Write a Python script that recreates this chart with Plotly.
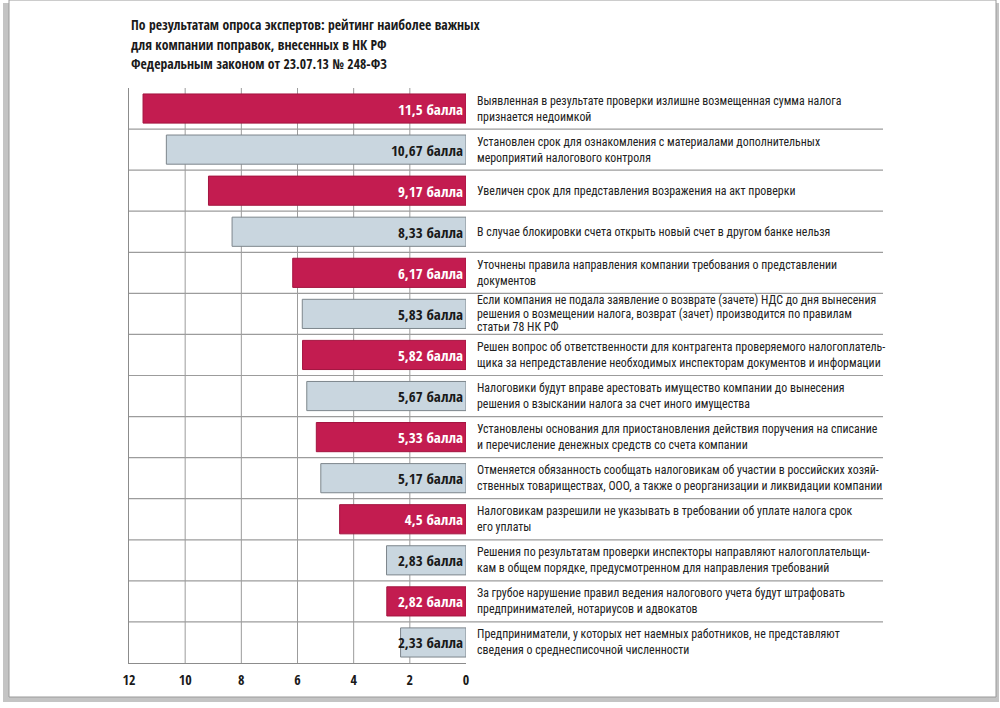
import plotly.graph_objects as go

title_lines = ["По результатам опроса экспертов: рейтинг наиболее важных",
               "для компании поправок, внесенных в НК РФ",
               "Федеральным законом от 23.07.13 № 248-ФЗ"]

labels = [
    ["Выявленная в результате проверки излишне возмещенная сумма налога", "признается недоимкой"],
    ["Установлен срок для ознакомления с материалами дополнительных", "мероприятий налогового контроля"],
    ["Увеличен срок для представления возражения на акт проверки"],
    ["В случае блокировки счета открыть новый счет в другом банке нельзя"],
    ["Уточнены правила направления компании требования о представлении", "документов"],
    ["Если компания не подала заявление о возврате (зачете) НДС до дня вынесения",
     "решения о возмещении налога, возврат (зачет) производится по правилам", "статьи 78 НК РФ"],
    ["Решен вопрос об ответственности для контрагента проверяемого налогоплатель-",
     "щика за непредставление необходимых инспекторам документов и информации"],
    ["Налоговики будут вправе арестовать имущество компании до вынесения",
     "решения о взыскании налога за счет иного имущества"],
    ["Установлены основания для приостановления действия поручения на списание",
     "и перечисление денежных средств со счета компании"],
    ["Отменяется обязанность сообщать налоговикам об участии в российских хозяй-",
     "ственных товариществах, ООО, а также о реорганизации и ликвидации компании"],
    ["Налоговикам разрешили не указывать в требовании об уплате налога срок", "его уплаты"],
    ["Решения по результатам проверки инспекторы направляют налогоплательщи-",
     "кам в общем порядке, предусмотренном для направления требований"],
    ["За грубое нарушение правил ведения налогового учета будут штрафовать",
     "предпринимателей, нотариусов и адвокатов"],
    ["Предприниматели, у которых нет наемных работников, не представляют",
     "сведения о среднесписочной численности"],
]

scores = [11.5, 10.67, 9.17, 8.33, 6.17, 5.83, 5.82, 5.67, 5.33, 5.17, 4.5, 2.83, 2.82, 2.33]

tick_vals = [0, 2, 4, 6, 8, 10, 12]
grid_vals = [2, 4, 6, 8, 10]

RED = "#c31c50"
LIGHT = "#c9d6df"
FONT = "Roboto Condensed, DejaVu Sans Condensed, sans-serif"
BOLD = "Open Sans Condensed, Roboto Condensed, DejaVu Sans Condensed, sans-serif"

n = len(scores)
rows = list(range(n))
fill = [RED if i % 2 == 0 else LIGHT for i in rows]
edge = ["#a3143f" if i % 2 == 0 else "#7d868c" for i in rows]
txtcol = ["white" if i % 2 == 0 else "#1a1a1a" for i in rows]
bar_text = [f"{v:g}".replace(".", ",") + " балла" for v in scores]

fig = go.Figure()
fig.add_trace(go.Bar(
    y=rows, x=scores, orientation="h",
    marker=dict(color=fill, line=dict(color=edge, width=1)),
    text=bar_text, textposition="inside", insidetextanchor="start",
    textangle=0, constraintext="none",
    textfont=dict(family=BOLD, size=15, color=txtcol, weight="bold"),
    hoverinfo="skip", showlegend=False,
))

# pixel -> paper helpers for decoration (plot area 129..466 x 88..663)
L, R, T, B = 129, 466, 88, 663
def px(xp):
    return (xp - L) / (R - L)
def py(yp):
    return (B - yp) / (B - T)

shapes = []
# page shadow + frame
shapes.append(dict(type="rect", xref="paper", yref="paper", layer="below",
                   x0=px(3), x1=px(999), y0=py(702), y1=py(3),
                   fillcolor="#c4c4c4", line=dict(width=0)))
shapes.append(dict(type="rect", xref="paper", yref="paper", layer="below",
                   x0=px(9), x1=px(996), y0=py(697), y1=py(0),
                   fillcolor="white", line=dict(color="#9a9a9a", width=1)))
# vertical grid lines
for g in grid_vals:
    shapes.append(dict(type="line", xref="x", yref="paper", layer="below",
                       x0=g, x1=g, y0=0, y1=1,
                       line=dict(color="#9c9c9c", width=1)))
# row separators
for i in rows[:-1]:
    shapes.append(dict(type="line", xref="paper", yref="y", layer="below",
                       x0=0, x1=px(883), y0=i + 0.5, y1=i + 0.5,
                       line=dict(color="#9c9c9c", width=1.2)))

annotations = []
for i, lines in zip(rows, labels):
    k = len(lines)
    gap = 16 if k < 3 else 13.5
    for j, line in enumerate(lines):
        annotations.append(dict(
            xref="paper", yref="y", x=px(475), y=i, xanchor="left", yanchor="middle",
            yshift=-(j - (k - 1) / 2) * gap,
            text=line, showarrow=False, align="left",
            font=dict(family=FONT, size=11.9, color="#222222"),
        ))
for j, line in enumerate(title_lines):
    annotations.append(dict(
        xref="paper", yref="paper", x=0, y=py(25 + j * 19), xanchor="left", yanchor="middle",
        text=line, showarrow=False, align="left",
        font=dict(family=BOLD, size=13.7, color="#1a1a1a", weight="bold"),
    ))

fig.update_layout(
    width=1000, height=708,
    margin=dict(l=L, r=1000 - R, t=T, b=708 - B, pad=0),
    paper_bgcolor="white", plot_bgcolor="rgba(0,0,0,0)",
    bargap=0.29,
    shapes=shapes, annotations=annotations,
    xaxis=dict(range=[12, 0], tickvals=tick_vals, ticktext=[str(t) for t in tick_vals],
               showgrid=False, zeroline=False, showline=True, linecolor="#8c8c8c",
               linewidth=1, ticks="", ticklabelstandoff=4,
               tickfont=dict(family=BOLD, size=14, color="#1a1a1a", weight="bold")),
    yaxis=dict(range=[n - 0.5, -0.5], showticklabels=False, showgrid=False,
               zeroline=False, showline=True, linecolor="#8c8c8c", linewidth=1,
               ticks=""),
)

fig.write_html("out.html", config={"displayModeBar": False},
               post_script="document.body.style.margin='0';")
